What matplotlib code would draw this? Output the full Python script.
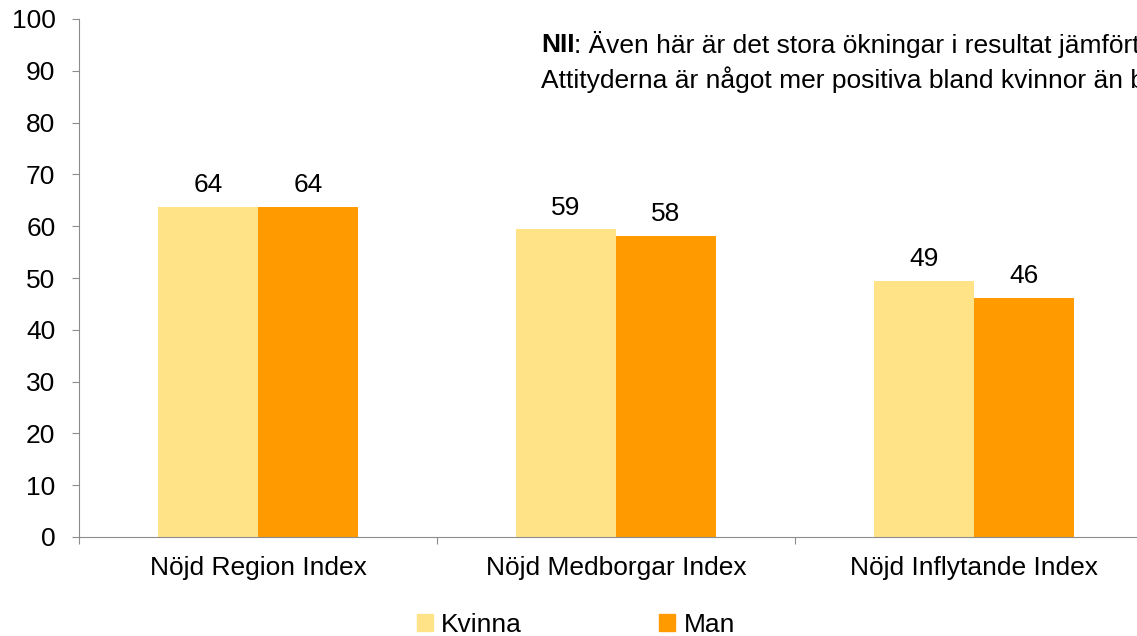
import matplotlib.pyplot as plt
import matplotlib.patches as mpatches
import numpy as np

plt.rcParams['font.family'] = ['Liberation Sans', 'DejaVu Sans']

categories = ['Nöjd Region Index', 'Nöjd Medborgar Index', 'Nöjd Inflytande Index']
kvinna = [63.8, 59.4, 49.4]
man = [63.8, 58.2, 46.1]
series_names = ['Kvinna', 'Man']
col_kvinna = '#FFE386'
col_man = '#FF9A00'
axis_col = '#8C8C8C'
fs = 19

W, H = 1137, 636
fig = plt.figure(figsize=(W / 100, H / 100), dpi=100)
# axes run past the right edge, as in the original (chart is clipped)
ax = fig.add_axes([79 / W, (H - 537) / H, 1074 / W, 518 / H])

x = np.arange(len(categories)) + 0.5
bw = 100 / 358
b1 = ax.bar(x - bw / 2, kvinna, bw, color=col_kvinna, label=series_names[0])
b2 = ax.bar(x + bw / 2, man, bw, color=col_man, label=series_names[1])

for bars in (b1, b2):
    for r in bars:
        ax.annotate('%d' % round(r.get_height()),
                    (r.get_x() + r.get_width() / 2, r.get_height()),
                    xytext=(0, 7), textcoords='offset points',
                    ha='center', va='bottom', fontsize=fs)

ax.set_xlim(0, 3)
ax.set_ylim(0, 100)
ax.set_yticks(range(0, 101, 10))
ax.set_xticks([0, 1, 2, 3])
ax.set_xticklabels([])
ax.set_xticks(x, minor=True)
ax.set_xticklabels(categories, minor=True)
ax.tick_params(axis='x', which='minor', length=0, pad=14, labelsize=fs)
ax.tick_params(axis='x', which='major', length=5, color=axis_col, direction='out')
ax.tick_params(axis='y', length=5, color=axis_col, pad=12, labelsize=fs)
for s in ('top', 'right'):
    ax.spines[s].set_visible(False)
for s in ('left', 'bottom'):
    ax.spines[s].set_color(axis_col)

# note text with bold lead (runs off the right edge like the original)
t1 = fig.text(541 / W, 1 - 45 / H, 'NII', fontsize=fs, fontweight='bold', va='center')
fig.canvas.draw()
bb = t1.get_window_extent()
fig.text(bb.x1 / W, 1 - 45 / H, ': Även här är det stora ökningar i resultat jämfört',
         fontsize=fs, va='center')
fig.text(541 / W, 1 - 80 / H, 'Attityderna är något mer positiva bland kvinnor än bland män',
         fontsize=fs, va='center')

handles = [mpatches.Patch(color=col_kvinna), mpatches.Patch(color=col_man)]
fig.legend(handles, series_names, loc='center', bbox_to_anchor=(576 / W, 11 / H),
           ncol=2, frameon=False, fontsize=fs, handlelength=0.6, handleheight=0.6,
           handletextpad=0.32, columnspacing=5.2, borderpad=0)

fig.savefig('out.png', dpi=100)
